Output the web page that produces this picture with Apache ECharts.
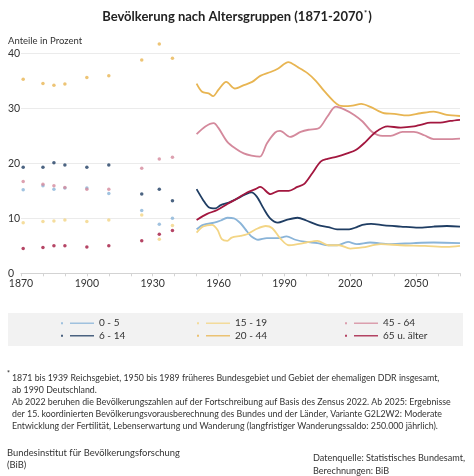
<!DOCTYPE html>
<html><head><meta charset="utf-8">
<script src="https://cdn.jsdelivr.net/npm/echarts@6/dist/echarts.min.js"></script>
<style>html,body{margin:0;padding:0;background:#fff}#c{width:474px;height:476px}</style>
</head><body><div id="c"></div>
<script>
// Historical survey years (scatter points)
const histYears = [1871, 1880, 1885, 1890, 1900, 1910, 1925, 1933, 1939];
const hist0_5   = [15.2, 15.9, 15.3, 15.5, 15.5, 14.5, 11.4, 8.9, 10.0];
const hist6_14  = [19.3, 19.3, 20.1, 19.7, 19.3, 19.7, 14.4, 15.3, 13.2];
const hist15_19 = [9.2, 9.4, 9.5, 9.7, 9.4, 9.7, 10.6, 6.2, 8.7];
const hist20_44 = [35.3, 34.5, 34.2, 34.4, 35.6, 35.9, 38.8, 41.7, 39.1];
const hist45_64 = [16.7, 16.2, 15.9, 15.6, 15.3, 15.3, 19.1, 20.8, 21.1];
const hist65    = [4.5, 4.7, 5.0, 5.0, 4.8, 5.0, 5.9, 7.1, 7.8];

// Continuous series 1950-2070
const yrs0_5  = [1950,1953,1958,1961,1964,1967,1970,1973,1975,1978,1982,1987,1991,1995,2000,2005,2010,2014,2019,2023,2029,2038,2049,2058,2070];
const val0_5  = [8.0,8.8,9.2,9.6,10.1,10.0,9.1,7.6,6.7,6.1,6.4,6.4,6.7,6.1,5.7,5.5,5.1,5.1,5.7,5.3,5.6,5.3,5.5,5.6,5.5];

const yrs6_14 = [1950,1953,1955.5,1958.5,1961,1965,1970,1973,1975,1977.5,1980.5,1983.5,1987,1991,1996,2000,2005,2010,2014,2019.5,2023,2025.5,2029.5,2035.5,2043,2051,2058,2064,2070];
const val6_14 = [15.3,13.3,12.0,11.8,12.4,12.9,13.9,14.5,14.7,13.9,11.8,10.0,9.2,9.7,10.1,9.6,8.8,8.4,8.0,8.0,8.4,8.8,9.0,8.7,8.5,8.3,8.5,8.6,8.5];

const yrs15_19 = [1950,1953,1957,1959.5,1961.5,1964,1966,1970,1973,1977,1981.5,1984.5,1988,1992,1996,2000,2005,2010,2015,2020,2025.5,2034,2043,2054,2064,2070];
const val15_19 = [7.4,8.5,8.8,7.9,6.2,5.9,6.5,6.8,7.1,8.0,8.6,8.2,6.4,5.1,5.3,5.6,5.9,5.1,5.1,4.5,4.7,5.3,5.1,5.0,4.8,5.0];

const yrs20_44 = [1950,1952.5,1955.5,1957.5,1960,1963.5,1967.5,1971.5,1975.3,1979,1983.7,1987,1991.8,1996,2000.5,2004.3,2008,2012.6,2015,2017,2021,2025,2029.5,2035.5,2040,2046,2052,2058,2064,2070];
const val20_44 = [34.5,33.0,32.7,32.2,33.4,34.8,33.6,34.2,34.8,35.9,36.6,37.2,38.4,37.5,36.4,35.0,33.2,31.2,30.5,30.4,30.5,30.8,30.2,29.1,29.0,28.7,29.1,29.4,28.8,28.6];

const yrs45_64 = [1950,1954,1957.8,1960,1964,1967.7,1971.5,1975,1978.8,1982,1985.8,1988,1992.6,1997.4,2001,2005.8,2009.6,2013.4,2017.2,2021.8,2025.6,2030,2034.6,2038.4,2043.8,2049,2053.7,2058,2064,2070];
const val45_64 = [25.3,26.7,27.3,26.4,23.9,22.7,21.8,21.4,21.2,23.6,25.6,25.9,24.8,25.7,26.1,26.4,28.5,30.3,29.8,28.8,27.6,25.7,25.0,25.0,25.7,25.7,25.1,24.4,24.4,24.5];

const yrs65 = [1950,1954.8,1959.4,1964,1968.5,1973,1976.8,1979,1983.7,1987.5,1992,1995.9,1998.9,2002.7,2006.5,2009.6,2014,2018.6,2022.5,2027,2031.6,2037,2043,2049,2052,2056.6,2061,2065.6,2070];
const val65 = [9.7,10.8,11.5,12.6,13.6,14.7,15.3,15.7,14.4,15.0,15.0,15.7,16.2,18.2,20.3,20.8,21.2,21.8,22.4,23.9,25.7,26.7,26.5,26.7,27.0,27.4,27.4,27.7,27.9];

const names  = ['0 - 5', '6 - 14', '15 - 19', '20 - 44', '45 - 64', '65 u. älter'];
const colors = ['#8ab4d8', '#1f3d63', '#f3d585', '#e8b552', '#d4899c', '#a3173f'];
const histData = [hist0_5, hist6_14, hist15_19, hist20_44, hist45_64, hist65];
const lineYears = [yrs0_5, yrs6_14, yrs15_19, yrs20_44, yrs45_64, yrs65];
const lineVals  = [val0_5, val6_14, val15_19, val20_44, val45_64, val65];

const yTicks = [0, 10, 20, 30, 40];
const xTicks = [1870, 1900, 1930, 1960, 1990, 2020, 2050];

const FONT = 'Lato';
const series = [];
names.forEach((n, i) => {
  series.push({
    name: n, type: 'scatter', clip: false, symbolSize: 3.5,
    itemStyle: { color: colors[i] },
    data: histYears.map((y, k) => [y, histData[i][k]]),
    z: 3
  });
});
[0, 2, 3, 4, 1, 5].forEach(i => {
  series.push({
    name: names[i], type: 'line', showSymbol: false, smooth: 0.3,
    lineStyle: { color: colors[i], width: 1.8 },
    itemStyle: { color: colors[i] },
    data: lineYears[i].map((y, k) => [y, lineVals[i][k]]),
    z: 2 + i * 0.1
  });
});

const icon = 'path://M0,3 h2 v2 h-2 z M9,3.2 h24 v1.6 h-24 z';
function legendCol(items, left) {
  return {
    data: items.map(n => ({ name: n, icon: icon })),
    orient: 'vertical', left: left, top: 317, padding: 0,
    itemWidth: 33, itemHeight: 8, itemGap: 0,
    textStyle: { fontFamily: FONT, fontSize: 10, color: '#333', lineHeight: 12.5, height: 12.5 },
    selectedMode: false
  };
}

const chart = echarts.init(document.getElementById('c'), null, { renderer: 'canvas' });
chart.setOption({
  animation: false,
  backgroundColor: '#fff',
  textStyle: { fontFamily: FONT },
  title: {
    text: '{a|Bevölkerung nach Altersgruppen (1871-2070}{s|*}{a|)}',
    left: 'center', top: 5,
    textStyle: {
      rich: {
        a: { fontFamily: FONT, fontWeight: 'bold', fontSize: 13, color: '#222' },
        s: { fontFamily: FONT, fontWeight: 'bold', fontSize: 7.5, color: '#222', verticalAlign: 'top', padding: [0, 1, 6, 1] }
      }
    }
  },
  legend: [
    legendCol([names[0], names[1]], 61),
    legendCol([names[2], names[3]], 197),
    legendCol([names[4], names[5]], 345)
  ],
  grid: { left: 21, right: 14, top: 53.3, bottom: 202.7 },
  xAxis: {
    type: 'value', min: xTicks[0], max: 2070, interval: 30,
    axisLine: { show: true, lineStyle: { color: '#d3d3d3', width: 1 } },
    axisTick: { show: true, length: 3, lineStyle: { color: '#d3d3d3' } },
    minorTick: { show: true, splitNumber: 3, length: 3, lineStyle: { color: '#d3d3d3' } },
    splitLine: { show: false },
    axisLabel: { showMaxLabel: false, margin: 5, fontFamily: FONT, fontSize: 10.5, color: '#333',
      formatter: v => xTicks.includes(v) ? String(v) : '' }
  },
  yAxis: {
    type: 'value', min: yTicks[0], max: yTicks[yTicks.length - 1], interval: 10,
    axisLine: { show: false }, axisTick: { show: false },
    splitLine: { lineStyle: { color: '#ebebeb', width: 1 } },
    axisLabel: { align: 'left', margin: 13, fontFamily: FONT, fontSize: 10.5, color: '#333' }
  },
  graphic: [
    { type: 'rect', z: -10, shape: { x: 8, y: 313, width: 455, height: 33 }, style: { fill: '#f2f2f2' } },
    { type: 'text', x: 8, y: 36, style: { text: 'Anteile in Prozent', font: '9.5px Lato', fill: '#333' } },
    { type: 'text', x: 7, y: 370, style: { text: '*', font: 'bold 7px Lato', fill: '#333' } },
    { type: 'text', x: 12, y: 372.5, style: {
      text: '1871 bis 1939 Reichsgebiet, 1950 bis 1989 früheres Bundesgebiet und Gebiet der ehemaligen DDR insgesamt,\nab 1990 Deutschland.\nAb 2022 beruhen die Bevölkerungszahlen auf der Fortschreibung auf Basis des Zensus 2022. Ab 2025: Ergebnisse\nder 15. koordinierten Bevölkerungsvorausberechnung des Bundes und der Länder, Variante G2L2W2: Moderate\nEntwicklung der Fertilität, Lebenserwartung und Wanderung (langfristiger Wanderungssaldo: 250.000 jährlich).',
      font: '8.8px Lato', fill: '#333', lineHeight: 12 } },
    { type: 'text', x: 7, y: 447.5, style: { text: 'Bundesinstitut für Bevölkerungsforschung\n(BiB)', font: '9.4px Lato', fill: '#333', lineHeight: 11.5 } },
    { type: 'text', x: 313, y: 452, style: { text: 'Datenquelle: Statistisches Bundesamt,\nBerechnungen: BiB', font: '9.1px Lato', fill: '#333', lineHeight: 12.5 } }
  ],
  series: series
});
</script></body></html>
